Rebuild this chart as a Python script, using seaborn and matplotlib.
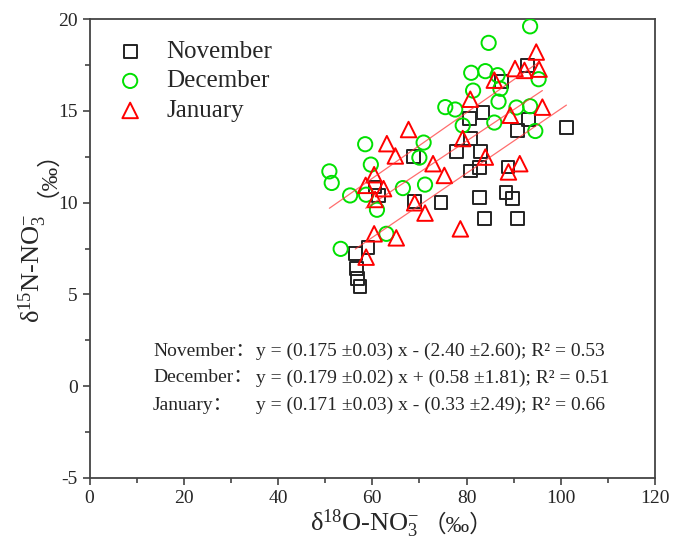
import matplotlib
matplotlib.use("Agg")
import matplotlib.pyplot as plt
import seaborn as sns
import numpy as np
import pandas as pd

# values
nov_x = [93.0, 87.5, 83.5, 80.6, 93.1, 90.8, 101.2, 80.8, 77.8, 82.9, 68.7, 80.8, 82.7,
         88.8, 60.6, 61.3, 68.9, 74.6, 82.8, 88.4, 89.8, 83.8, 90.8, 59.1, 56.4, 56.7,
         56.9, 57.4]
nov_y = [17.45, 16.58, 14.9, 14.6, 14.52, 13.94, 14.09, 13.49, 12.8, 12.8, 12.49, 11.72,
         11.89, 11.94, 10.85, 10.4, 10.08, 9.99, 10.27, 10.57, 10.21, 9.15, 9.15, 7.54,
         7.24, 6.42, 5.88, 5.44]

dec_x = [93.5, 84.7, 81.0, 84.0, 86.6, 87.2, 95.3, 81.4, 86.8, 75.5, 77.6, 79.2, 85.9,
         90.6, 93.5, 94.6, 58.5, 70.9, 70.0, 59.7, 50.9, 51.4, 55.3, 58.7, 61.0, 66.5,
         71.2, 63.0, 53.3]
dec_y = [19.6, 18.7, 17.07, 17.16, 16.94, 16.2, 16.72, 16.1, 15.5, 15.2, 15.07, 14.2,
         14.36, 15.18, 15.25, 13.9, 13.18, 13.27, 12.45, 12.07, 11.7, 11.07, 10.39, 10.43,
         9.61, 10.79, 10.98, 8.3, 7.48]

jan_x = [94.8, 90.3, 92.3, 95.4, 85.9, 80.8, 96.1, 89.3, 67.7, 63.1, 64.9, 79.2, 84.0,
         72.9, 75.3, 91.3, 88.9, 60.4, 58.6, 62.4, 60.6, 69.0, 71.2, 78.7, 60.4, 65.1,
         58.7]
jan_y = [18.2, 17.3, 17.2, 17.27, 16.67, 15.63, 15.2, 14.76, 13.98, 13.21, 12.54, 13.49,
         12.48, 12.12, 11.48, 12.12, 11.67, 11.52, 10.94, 10.76, 10.17, 9.99, 9.43, 8.57,
         8.3, 8.08, 7.03]

months = ["November", "December", "January"]
slopes = [0.175, 0.179, 0.171]
intercepts = [-2.40, 0.58, -0.33]
eq_texts = [
    "y = (0.175 ±0.03) x - (2.40 ±2.60); R² = 0.53",
    "y = (0.179 ±0.02) x + (0.58 ±1.81); R² = 0.51",
    "y = (0.171 ±0.03) x - (0.33 ±2.49); R² = 0.66",
]

W, H = 673, 542

sns.set_style("ticks")
plt.rcParams["font.family"] = ["Liberation Serif", "Noto Sans CJK SC"]
plt.rcParams["mathtext.fontset"] = "custom"
plt.rcParams["mathtext.rm"] = "Liberation Serif"
plt.rcParams["mathtext.default"] = "regular"
plt.rcParams["axes.unicode_minus"] = False

fig = plt.figure(figsize=(W / 100, H / 100), dpi=100)
ax = fig.add_axes([89.5 / W, 1 - 478 / H, (655 - 89.5) / W, (478 - 19) / H])

series = [(nov_x, nov_y, "s", "#222222", 85),
          (dec_x, dec_y, "o", "#00e000", 105),
          (jan_x, jan_y, "^", "#ff0000", 125)]

for (xs, ys, mk, col, size), name in zip(series, months):
    df = pd.DataFrame({"x": xs, "y": ys})
    sns.scatterplot(data=df, x="x", y="y", marker=mk, s=size, color=col,
                    facecolor="none", edgecolor=col, linewidth=1.4,
                    label=name, ax=ax, zorder=3)

# fitted lines over each month's range
for (xs, ys, mk, col, size), a, b in zip(series, slopes, intercepts):
    lx = np.array([min(xs), max(xs)])
    ax.plot(lx, a * lx + b, color="#ff3030", lw=0.9, alpha=0.7, zorder=4)

ax.set_xlim(0, 120)
ax.set_ylim(-5, 20)
ax.set_xticks(np.arange(0, 121, 20))
ax.set_xticks(np.arange(10, 120, 20), minor=True)
ax.set_yticks(np.arange(-5, 21, 5))
ax.set_yticks(np.arange(-2.5, 20, 5), minor=True)
ax.tick_params(axis="both", which="major", direction="out", length=5, width=1.1,
               labelsize=14, color="#333333")
ax.tick_params(axis="both", which="minor", direction="out", length=3.5, width=1.1,
               color="#333333")
for sp in ax.spines.values():
    sp.set_visible(True)
    sp.set_color("#444444")
    sp.set_linewidth(1.3)
ax.set_xlabel("")
ax.set_ylabel("")

leg = ax.legend(loc="upper left", frameon=False, fontsize=18,
                bbox_to_anchor=(0.01, 0.975), handletextpad=0.45,
                labelspacing=0.28, borderaxespad=0)

# axis labels
fig.text(310 / W, 1 - 524 / H, "δ$^{18}$O-NO$_3^{-}$", fontsize=19,
         ha="left", va="center")
fig.text(423 / W, 1 - 526 / H, "（‰）", fontsize=17, ha="left", va="center")
fig.text(33 / W, 1 - 268 / H, "δ$^{15}$N-NO$_3^{-}$", fontsize=19,
         rotation=90, ha="center", va="center")
fig.text(35 / W, 1 - 162 / H, "（‰）", fontsize=17, rotation=90,
         ha="center", va="center")

# equations
for i, (name, eq) in enumerate(zip(months, eq_texts)):
    py = 351 + i * 27
    fig.text(153 / W, 1 - py / H, name + "：", fontsize=14, ha="left", va="center")
    fig.text(256 / W, 1 - py / H, eq, fontsize=14, ha="left", va="center")

fig.savefig("out.png", dpi=100)
